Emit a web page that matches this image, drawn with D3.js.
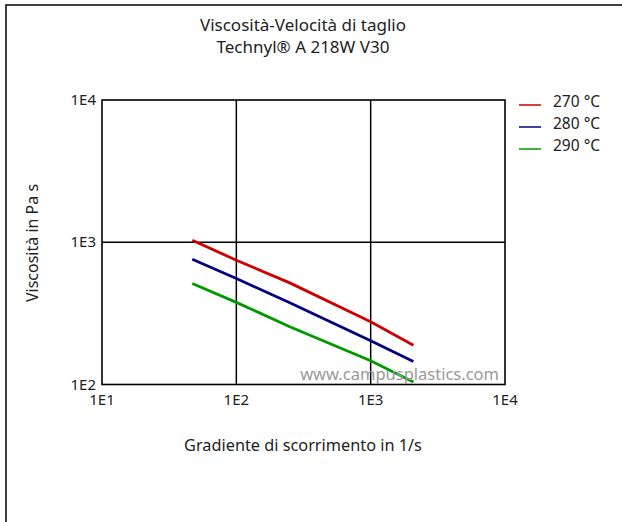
<!DOCTYPE html>
<html>
<head>
<meta charset="utf-8">
<script src="https://cdn.jsdelivr.net/npm/d3@7"></script>
<style>
  body { margin: 0; background: #fff; }
  text { font-family: "Noto Sans", "Open Sans", sans-serif; fill: #222; }
</style>
</head>
<body>
<svg id="chart" width="622" height="522"></svg>
<script>
// shear rate (1/s) and viscosity (Pa s)
const rate = [47, 100, 250, 1000, 2080];
const visc270 = [1033, 748, 518, 276, 189];
const visc280 = [760, 556, 375, 203, 145];
const visc290 = [513, 378, 255, 147, 104];
const seriesNames = ["270 °C", "280 °C", "290 °C"];
const seriesColors = ["#cc0000", "#000080", "#009900"];
const xTicks = [10, 100, 1000, 10000];
const yTicks = [100, 1000, 10000];
const tickLabel = v => "1E" + Math.round(Math.log10(v));

const SVG = d3.select("#chart");
const Margin = [100, 137.5, 117, 102]; // top bottom right left
const W = 622, H = 522;

// outer frame
SVG.append("rect")
  .attr("x", 6).attr("y", 5)
  .attr("width", 640).attr("height", 540)
  .attr("fill", "none").attr("stroke", "#111").attr("stroke-width", 1.6);

const X = d3.scaleLog().domain([10, 10000]).range([Margin[3], W - Margin[2]]);
const Y = d3.scaleLog().domain([100, 10000]).range([H - Margin[1], Margin[0]]);

// grid
SVG.append("g").selectAll("line").data(xTicks.slice(1, -1)).join("line")
  .attr("x1", d => X(d)).attr("x2", d => X(d))
  .attr("y1", Y(10000)).attr("y2", Y(100))
  .attr("stroke", "#000").attr("stroke-width", 1.5);
SVG.append("g").selectAll("line").data(yTicks.slice(1, -1)).join("line")
  .attr("y1", d => Y(d)).attr("y2", d => Y(d))
  .attr("x1", X(10)).attr("x2", X(10000))
  .attr("stroke", "#000").attr("stroke-width", 1.5);
SVG.append("rect")
  .attr("x", X(10)).attr("y", Y(10000))
  .attr("width", X(10000) - X(10)).attr("height", Y(100) - Y(10000))
  .attr("fill", "none").attr("stroke", "#000").attr("stroke-width", 1.6);

// axes labels
SVG.append("g").selectAll("text").data(xTicks).join("text")
  .attr("x", d => X(d)).attr("y", Y(100) + 20)
  .attr("text-anchor", "middle").attr("font-size", 15)
  .text(tickLabel);
SVG.append("g").selectAll("text").data(yTicks).join("text")
  .attr("x", X(10) - 6).attr("y", d => Y(d) + 5)
  .attr("text-anchor", "end").attr("font-size", 15)
  .text(tickLabel);

// curves
const line = d3.line().x(d => X(d[0])).y(d => Y(d[1]));
[visc270, visc280, visc290].forEach((vals, i) => {
  SVG.append("path")
    .datum(rate.map((r, j) => [r, vals[j]]))
    .attr("d", line)
    .attr("fill", "none")
    .attr("stroke", seriesColors[i])
    .attr("stroke-width", 2.8);
});

// watermark
SVG.append("text")
  .attr("x", X(10000) - 6).attr("y", Y(100) - 5)
  .attr("text-anchor", "end").attr("font-size", 16.5)
  .style("fill", "#999")
  .text("www.campusplastics.com");

// titles
SVG.append("text").attr("x", 303).attr("y", 31)
  .attr("text-anchor", "middle").attr("font-size", 17)
  .text("Viscosità-Velocità di taglio");
SVG.append("text").attr("x", 303).attr("y", 53)
  .attr("text-anchor", "middle").attr("font-size", 17)
  .text("Technyl® A 218W V30");
SVG.append("text").attr("x", 303).attr("y", 451)
  .attr("text-anchor", "middle").attr("font-size", 16.3)
  .text("Gradiente di scorrimento in 1/s");
SVG.append("text")
  .attr("transform", "translate(38,243) rotate(-90)")
  .attr("text-anchor", "middle").attr("font-size", 16)
  .text("Viscosità in Pa s");

// legend
const legend = SVG.append("g").selectAll("g").data(seriesNames).join("g")
  .attr("transform", (_, i) => `translate(519,${105 + i * 22})`);
legend.append("line")
  .attr("x1", 0).attr("x2", 22)
  .attr("stroke", (_, i) => seriesColors[i]).attr("stroke-width", 1.5);
legend.append("text")
  .attr("x", 34).attr("y", 0).attr("dy", "0.15em")
  .attr("font-size", 15.5)
  .text(d => d);
</script>
</body>
</html>
